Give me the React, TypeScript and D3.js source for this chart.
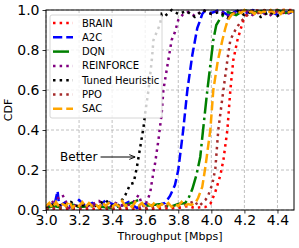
import React, { useEffect, useRef } from "react";
import * as d3 from "d3";

// [throughput, cdf] points
const brain = [
  [3.0, 0.005], [3.2, 0.005], [3.4, 0.005], [3.6, 0.005], [3.8, 0.01], [3.86, 0.02], [3.9, 0.01], [3.95, 0.015],
  [3.964, 0.015], [3.994, 0.03], [4.024, 0.09], [4.055, 0.175], [4.073, 0.25], [4.097, 0.4],
  [4.115, 0.6], [4.133, 0.75], [4.158, 0.85], [4.176, 0.9], [4.194, 0.95], [4.218, 0.985],
  [4.25, 1.0], [4.3, 0.995], [4.4, 1.0], [4.5, 1.0],
];
const a2c = [
  [3.0, 0.01], [3.03, 0.03], [3.05, 0.02], [3.07, 0.095], [3.08, 0.02], [3.12, 0.04], [3.16, 0.01],
  [3.2, 0.05], [3.24, 0.02], [3.28, 0.035], [3.32, 0.01], [3.36, 0.05], [3.4, 0.03], [3.45, 0.02],
  [3.5, 0.04], [3.55, 0.01], [3.6, 0.03], [3.65, 0.02], [3.7, 0.03],
  [3.72, 0.035], [3.75, 0.07], [3.78, 0.125], [3.8, 0.2], [3.83, 0.4], [3.855, 0.6], [3.885, 0.775],
  [3.915, 0.91], [3.933, 0.95], [3.945, 0.98], [3.96, 0.995],
  [4.0, 0.985], [4.05, 1.0], [4.1, 0.975], [4.15, 0.995], [4.2, 0.98], [4.25, 1.0], [4.3, 0.985],
  [4.35, 0.995], [4.4, 0.975], [4.45, 0.99], [4.5, 0.985],
];
const dqn = [
  [3.0, 0.01], [3.05, 0.02], [3.1, 0.01], [3.15, 0.03], [3.2, 0.015], [3.3, 0.02], [3.4, 0.01],
  [3.5, 0.03], [3.56, 0.05], [3.6, 0.02], [3.7, 0.03], [3.75, 0.015], [3.8, 0.03],
  [3.842, 0.035], [3.86, 0.055], [3.885, 0.105], [3.91, 0.175], [3.933, 0.265], [3.95, 0.4],
  [3.976, 0.6], [3.994, 0.725], [4.012, 0.85], [4.03, 0.925], [4.055, 0.96], [4.085, 0.985],
  [4.1, 0.99], [4.15, 0.975], [4.2, 1.0], [4.25, 0.985], [4.3, 0.995], [4.35, 0.98], [4.4, 1.0],
  [4.45, 0.985], [4.5, 0.99],
];
const reinforce = [
  [3.0, 0.02], [3.04, 0.04], [3.1, 0.075], [3.14, 0.01], [3.2, 0.03], [3.26, 0.02], [3.32, 0.045],
  [3.38, 0.01], [3.42, 0.035], [3.47, 0.02], [3.52, 0.03], [3.56, 0.075], [3.58, 0.03],
  [3.594, 0.015], [3.606, 0.035], [3.63, 0.085], [3.642, 0.15], [3.66, 0.235], [3.68, 0.35],
  [3.7, 0.485], [3.71, 0.6], [3.74, 0.75], [3.76, 0.85], [3.78, 0.89], [3.8, 0.95], [3.83, 0.98],
  [3.86, 0.99], [3.9, 0.97], [3.95, 1.0], [4.0, 0.98], [4.05, 0.995], [4.1, 0.97], [4.15, 0.99],
  [4.2, 1.0], [4.25, 0.975], [4.3, 0.99], [4.35, 0.97], [4.4, 0.995], [4.45, 0.98], [4.5, 0.99],
];
const tuned = [
  [3.0, 0.01], [3.05, 0.03], [3.1, 0.02], [3.15, 0.04], [3.2, 0.015], [3.25, 0.03], [3.3, 0.02],
  [3.36, 0.05], [3.4, 0.02], [3.44, 0.025], [3.46, 0.05], [3.48, 0.075], [3.51, 0.13],
  [3.53, 0.135], [3.55, 0.215], [3.57, 0.315], [3.59, 0.415], [3.6, 0.485], [3.62, 0.6],
  [3.64, 0.75], [3.65, 0.85], [3.69, 0.93], [3.7, 0.98], [3.72, 0.97], [3.76, 1.0], [3.8, 0.98],
  [3.85, 0.995], [3.9, 0.965], [3.95, 1.0], [4.0, 0.98], [4.05, 0.99], [4.1, 0.96], [4.15, 1.0],
  [4.2, 0.975], [4.25, 0.995], [4.3, 0.965], [4.35, 0.99], [4.4, 0.97], [4.45, 1.0], [4.5, 0.985],
];
const ppo = [
  [3.0, 0.005], [3.1, 0.015], [3.2, 0.01], [3.3, 0.02], [3.4, 0.01], [3.5, 0.015], [3.6, 0.01],
  [3.7, 0.02], [3.8, 0.015], [3.86, 0.03], [3.9, 0.045], [3.92, 0.02], [3.933, 0.025],
  [3.964, 0.05], [3.98, 0.07], [4.006, 0.13], [4.024, 0.205], [4.042, 0.4], [4.073, 0.6],
  [4.097, 0.75], [4.115, 0.85], [4.145, 0.9], [4.176, 0.94], [4.218, 0.975], [4.25, 0.995],
  [4.28, 0.985], [4.32, 1.0], [4.36, 0.99], [4.4, 0.995], [4.45, 0.985], [4.5, 0.995],
];
const sac = [
  [3.0, 0.02], [3.02, 0.035], [3.04, 0.01], [3.06, 0.04], [3.08, 0.015], [3.1, 0.03], [3.12, 0.02],
  [3.14, 0.045], [3.16, 0.01], [3.18, 0.03], [3.2, 0.02], [3.22, 0.04], [3.24, 0.015], [3.26, 0.035],
  [3.28, 0.02], [3.3, 0.03], [3.32, 0.01], [3.34, 0.04], [3.36, 0.02], [3.38, 0.035], [3.4, 0.015],
  [3.42, 0.03], [3.44, 0.02], [3.46, 0.045], [3.48, 0.02], [3.5, 0.03], [3.52, 0.015], [3.54, 0.04],
  [3.56, 0.02], [3.58, 0.035], [3.6, 0.015], [3.62, 0.03], [3.64, 0.02], [3.66, 0.04], [3.68, 0.015],
  [3.7, 0.03], [3.72, 0.02], [3.74, 0.035], [3.76, 0.015], [3.78, 0.03], [3.8, 0.02], [3.82, 0.04],
  [3.84, 0.02], [3.86, 0.03], [3.88, 0.025], [3.903, 0.035], [3.92, 0.06], [3.945, 0.115],
  [3.964, 0.215], [3.994, 0.4], [4.012, 0.6], [4.04, 0.75], [4.067, 0.85], [4.085, 0.91],
  [4.1, 0.95], [4.127, 0.98], [4.164, 0.99], [4.18, 0.985], [4.2, 1.0], [4.22, 0.985], [4.24, 0.995],
  [4.26, 0.98], [4.28, 1.0], [4.3, 0.985], [4.32, 0.995], [4.34, 0.98], [4.36, 1.0], [4.38, 0.985],
  [4.4, 0.995], [4.42, 0.98], [4.44, 1.0], [4.46, 0.985], [4.48, 0.995], [4.5, 0.99],
];

const seriesNames = ["BRAIN", "A2C", "DQN", "REINFORCE", "Tuned Heuristic", "PPO", "SAC"];
const seriesColors = ["#ff0000", "#0000ff", "#008000", "#800080", "#000000", "#a52a2a", "#ffa500"];
const seriesStyles = ["dot", "dash", "dashdot", "dot", "dot", "dot", "dash"];
const seriesData = [brain, a2c, dqn, reinforce, tuned, ppo, sac];

const xTicks = [3.0, 3.2, 3.4, 3.6, 3.8, 4.0, 4.2, 4.4];
const yTicks = [0.0, 0.2, 0.4, 0.6, 0.8, 1.0];

const LW = 2.5;
const dashFor = (s) =>
  s === "dot" ? `${LW},${1.65 * LW}` : s === "dash" ? `${3.7 * LW},${1.6 * LW}` : `${6.4 * LW},${1.6 * LW},${LW},${1.6 * LW}`;

export default function App() {
  const ref = useRef(null);

  useEffect(() => {
    const width = 299;
    const height = 248;
    const margin = { top: 10, right: 5, bottom: 38, left: 46 };
    const w = width - margin.left - margin.right;
    const h = height - margin.top - margin.bottom;
    const font = "DejaVu Sans, sans-serif";

    d3.select(ref.current).selectAll("*").remove();
    const svg = d3
      .select(ref.current)
      .append("svg")
      .attr("width", width)
      .attr("height", height)
      .style("position", "absolute")
      .style("left", "0px")
      .style("top", "0px")
      .style("background", "#fff");

    const g = svg.append("g").attr("transform", `translate(${margin.left},${margin.top})`);

    const x = d3.scaleLinear().domain([3.0, 4.5]).range([0, w]);
    const y = d3.scaleLinear().domain([0, 1]).range([h, 0]);

    // grid
    g.selectAll(".gx")
      .data(xTicks)
      .join("line")
      .attr("x1", (d) => x(d))
      .attr("x2", (d) => x(d))
      .attr("y1", 0)
      .attr("y2", h)
      .attr("stroke", "#b0b0b0")
      .attr("stroke-width", 0.8)
      .attr("stroke-dasharray", "3,2");
    g.selectAll(".gy")
      .data(yTicks)
      .join("line")
      .attr("x1", 0)
      .attr("x2", w)
      .attr("y1", (d) => y(d))
      .attr("y2", (d) => y(d))
      .attr("stroke", "#b0b0b0")
      .attr("stroke-width", 0.8)
      .attr("stroke-dasharray", "3,2");

    svg
      .append("defs")
      .append("clipPath")
      .attr("id", "plotclip")
      .append("rect")
      .attr("width", w)
      .attr("height", h + 2)
      .attr("y", -2);

    const line = d3
      .line()
      .x((d) => x(d[0]))
      .y((d) => y(d[1]));

    const lines = g.append("g").attr("clip-path", "url(#plotclip)");
    seriesData.forEach((data, i) => {
      lines
        .append("path")
        .datum(data)
        .attr("fill", "none")
        .attr("stroke", seriesColors[i])
        .attr("stroke-width", LW)
        .attr("stroke-dasharray", dashFor(seriesStyles[i]))
        .attr("d", line);
    });

    // axes
    const axisBottom = g
      .append("g")
      .attr("transform", `translate(0,${h})`)
      .call(d3.axisBottom(x).tickValues(xTicks).tickFormat(d3.format(".1f")).tickSize(3.5).tickPadding(2));
    const axisLeft = g
      .append("g")
      .call(d3.axisLeft(y).tickValues(yTicks).tickFormat(d3.format(".1f")).tickSize(3.5).tickPadding(3));
    [axisBottom, axisLeft].forEach((a) => {
      a.select(".domain").remove();
      a.selectAll("line").attr("stroke", "#000").attr("stroke-width", 0.8);
      a.selectAll("text").attr("fill", "#000").style("font-size", "14px").style("font-family", font);
    });

    g.append("rect")
      .attr("width", w)
      .attr("height", h)
      .attr("fill", "none")
      .attr("stroke", "#000")
      .attr("stroke-width", 1);

    // legend
    const lg = g.append("g").attr("transform", "translate(4,5)");
    lg.append("rect")
      .attr("width", 112)
      .attr("height", 103)
      .attr("rx", 2)
      .attr("fill", "rgba(255,255,255,0.8)")
      .attr("stroke", "#cccccc")
      .attr("stroke-width", 0.8);
    seriesNames.forEach((name, i) => {
      const yy = 8 + i * 14.3;
      lg.append("line")
        .attr("x1", 3)
        .attr("x2", 23)
        .attr("y1", yy)
        .attr("y2", yy)
        .attr("stroke", seriesColors[i])
        .attr("stroke-width", LW)
        .attr("stroke-dasharray", dashFor(seriesStyles[i]));
      lg.append("text")
        .attr("x", 32)
        .attr("y", yy)
        .attr("dy", "0.35em")
        .style("font-size", "10px")
        .style("font-family", font)
        .attr("fill", "#000")
        .text(name);
    });

    // annotation
    svg
      .append("defs")
      .append("marker")
      .attr("id", "arrowhead")
      .attr("viewBox", "0 0 10 10")
      .attr("refX", 10)
      .attr("refY", 5)
      .attr("markerWidth", 6)
      .attr("markerHeight", 6)
      .attr("orient", "auto")
      .append("path")
      .attr("d", "M0,1 L10,5 L0,9")
      .attr("fill", "none")
      .attr("stroke", "#000")
      .attr("stroke-width", 1.5);
    g.append("text")
      .attr("x", x(3.085))
      .attr("y", y(0.265))
      .attr("dy", "0.35em")
      .style("font-size", "12px")
      .style("font-family", font)
      .text("Better");
    g.append("line")
      .attr("x1", x(3.33))
      .attr("x2", x(3.54))
      .attr("y1", y(0.265))
      .attr("y2", y(0.265))
      .attr("stroke", "#000")
      .attr("stroke-width", 1)
      .attr("marker-end", "url(#arrowhead)");

    // axis labels
    svg
      .append("text")
      .attr("x", margin.left + w / 2)
      .attr("y", 240)
      .attr("text-anchor", "middle")
      .style("font-size", "11px")
      .style("font-family", font)
      .text("Throughput [Mbps]");
    svg
      .append("text")
      .attr("transform", `translate(12,${margin.top + h / 2}) rotate(-90)`)
      .attr("text-anchor", "middle")
      .style("font-size", "11px")
      .style("font-family", font)
      .text("CDF");
  }, []);

  return <div ref={ref}></div>;
}
